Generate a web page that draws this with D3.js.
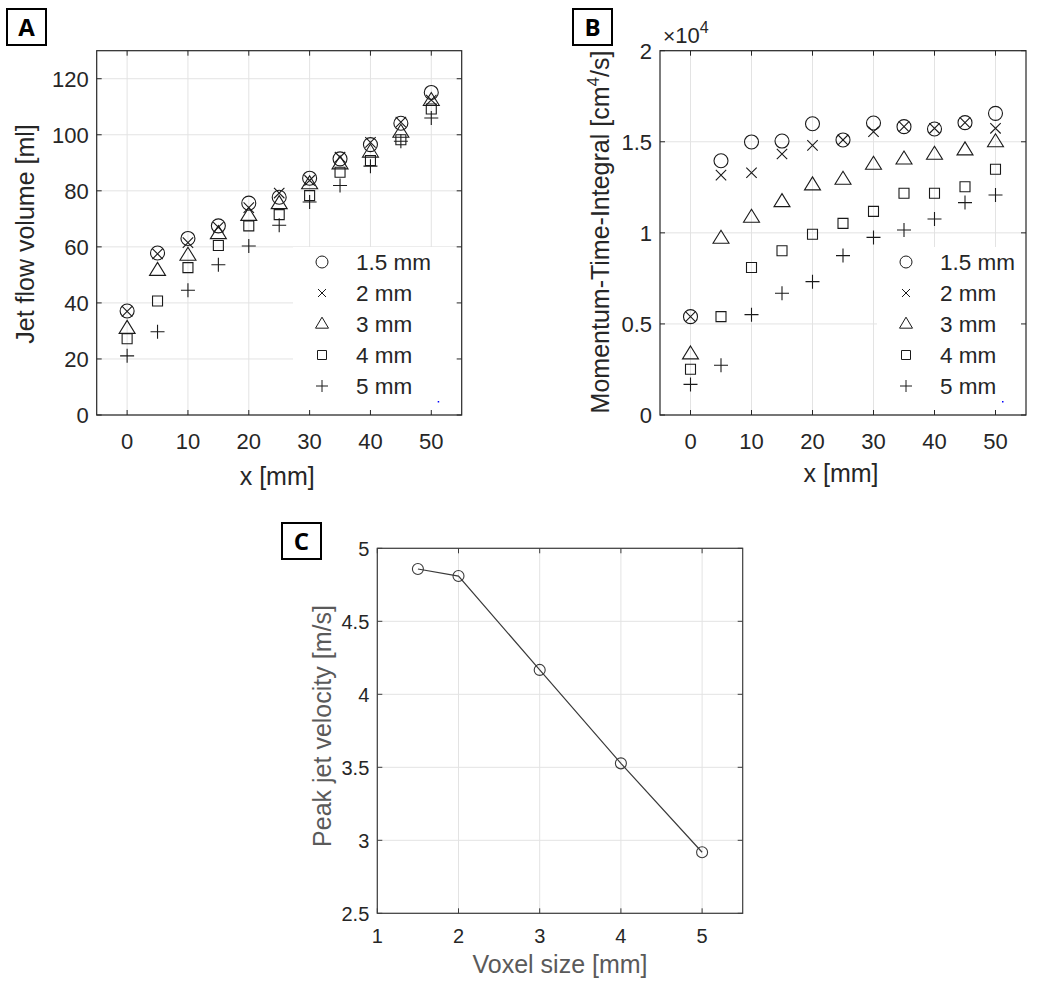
<!DOCTYPE html>
<html>
<head>
<meta charset="utf-8">
<script src="https://cdn.jsdelivr.net/npm/d3@7/dist/d3.min.js"></script>
<style>
  body { margin: 0; background: #fff; }
  text { font-family: "Liberation Sans", Arial, sans-serif; }
</style>
</head>
<body>
<svg id="fig" width="1041" height="994"></svg>
<script>
// ---- data ----
const xPos = [0, 5, 10, 15, 20, 25, 30, 35, 40, 45, 50]
const voxelLabels = ["1.5 mm", "2 mm", "3 mm", "4 mm", "5 mm"]

// panel A: jet flow volume [ml]
const volume15 = [37.1, 57.8, 63.0, 67.5, 75.6, 77.7, 84.5, 91.4, 96.5, 104.1, 115.1]
const volume2  = [37.0, 57.5, 61.5, 67.0, 74.0, 79.2, 83.7, 92.0, 97.3, 104.5, 112.4]
const volume3  = [30.9, 51.6, 57.0, 64.7, 71.2, 75.4, 82.5, 89.6, 93.8, 100.9, 112.2]
const volume4  = [27.2, 40.7, 52.6, 60.5, 67.5, 71.5, 78.3, 86.6, 90.8, 98.2, 109.2]
const volume5  = [21.1, 29.7, 44.5, 53.6, 60.3, 67.7, 76.0, 81.9, 88.8, 97.7, 106.0]

// panel B: momentum-time-integral [cm^4/s]
const mti15 = [5400, 13960, 14990, 15040, 15990, 15100, 16030, 15830, 15700, 16050, 16560]
const mti2  = [5400, 13170, 13300, 14330, 14800, 15100, 15550, 15830, 15740, 16050, 15740]
const mti3  = [3350, 9700, 10850, 11710, 12630, 12940, 13760, 14050, 14310, 14550, 15000]
const mti4  = [2510, 5400, 8100, 9020, 9920, 10520, 11180, 12170, 12170, 12530, 13490]
const mti5  = [1680, 2730, 5510, 6680, 7320, 8750, 9750, 10160, 10760, 11660, 12080]

// panel C: peak jet velocity [m/s]
const voxelSize = [1.5, 2, 3, 4, 5]
const peakVelocity = [4.858, 4.81, 4.167, 3.527, 2.918]

const xTicks = [0, 10, 20, 30, 40, 50]
const volumeTicks = [0, 20, 40, 60, 80, 100, 120]
const mtiTicks = [0, 5000, 10000, 15000, 20000]
const voxelTicks = [1, 2, 3, 4, 5]
const velocityTicks = [2.5, 3, 3.5, 4, 4.5, 5]

const svg = d3.select('#fig')
const ink = '#262626'
const gridColor = '#e3e3e3'

// ---- marker shapes ----
const shapes = {
  circle: s => { const r = s.r; return `M${r},0A${r},${r} 0 1,1 ${-r},0A${r},${r} 0 1,1 ${r},0Z` },
  x: s => { const h = s.x; return `M${-h},${-h}L${h},${h}M${-h},${h}L${h},${-h}` },
  triangle: s => { const w = s.tw / 2, h = s.th; return `M0,${-h * 0.62}L${w},${h * 0.38}L${-w},${h * 0.38}Z` },
  square: s => { const h = s.sq / 2; return `M${-h},${-h}H${h}V${h}H${-h}Z` },
  plus: s => { const h = s.p; return `M${-h},0H${h}M0,${-h}V${h}` }
}
const shapeOrder = ['circle', 'x', 'triangle', 'square', 'plus']
const plotSize = {r: 7, x: 5.2, tw: 16, th: 13, sq: 10, p: 7}
const legendSize = {r: 6, x: 4, tw: 13, th: 11, sq: 9, p: 6}

function panelLabel(x, y, label) {
  svg.append('rect').attr('x', x).attr('y', y).attr('width', 39).attr('height', 36)
    .attr('fill', '#fff').attr('stroke', '#000').attr('stroke-width', 2)
  svg.append('text').attr('x', x + 19.5).attr('y', y + 27)
    .attr('text-anchor', 'middle')
    .style('font-family', '"Open Sans", sans-serif')
    .style('font-weight', 'bold').style('font-size', '24px')
    .text(label)
}

function grid(g, x, y, xt, yt) {
  const [x0, x1] = x.range(), [y0, y1] = y.range()
  g.append('g').selectAll('line').data(xt).join('line')
    .attr('x1', d => x(d)).attr('x2', d => x(d)).attr('y1', y0).attr('y2', y1)
    .attr('stroke', gridColor)
  g.append('g').selectAll('line').data(yt).join('line')
    .attr('x1', x0).attr('x2', x1).attr('y1', d => y(d)).attr('y2', d => y(d))
    .attr('stroke', gridColor)
}

function axesBox(g, x, y, xt, yt, boxColor, fontSize, xGap, yFormat) {
  const [x0, x1] = x.range(), [y0, y1] = y.range()
  const tl = 5
  const ticks = g.append('g').attr('stroke', boxColor).attr('stroke-width', 1)
  xt.forEach(d => {
    ticks.append('line').attr('x1', x(d)).attr('x2', x(d)).attr('y1', y0).attr('y2', y0 - tl)
    ticks.append('line').attr('x1', x(d)).attr('x2', x(d)).attr('y1', y1).attr('y2', y1 + tl)
  })
  yt.forEach(d => {
    ticks.append('line').attr('x1', x0).attr('x2', x0 + tl).attr('y1', y(d)).attr('y2', y(d))
    ticks.append('line').attr('x1', x1).attr('x2', x1 - tl).attr('y1', y(d)).attr('y2', y(d))
  })
  g.append('rect').attr('x', x0).attr('y', y1).attr('width', x1 - x0).attr('height', y0 - y1)
    .attr('fill', 'none').attr('stroke', boxColor).attr('stroke-width', 1.2)
  g.append('g').selectAll('text').data(xt).join('text')
    .attr('x', d => x(d)).attr('y', y0 + xGap)
    .attr('text-anchor', 'middle').attr('fill', ink)
    .style('font-size', fontSize + 'px').text(d => d)
  g.append('g').selectAll('text').data(yt).join('text')
    .attr('x', x0 - 8).attr('y', d => y(d) + fontSize * 0.36)
    .attr('text-anchor', 'end').attr('fill', ink)
    .style('font-size', fontSize + 'px').text(yFormat || (d => d))
}

function scatterPanel(opt) {
  const g = svg.append('g')
  const x = d3.scaleLinear().domain([-5, 55]).range([opt.left, opt.right])
  const y = d3.scaleLinear().domain(opt.yDomain).range([opt.bottom, opt.top])
  grid(g, x, y, xTicks, opt.yTicks)

  // legend background hides grid
  g.append('rect').attr('x', opt.legendX).attr('y', 247)
    .attr('width', opt.right - opt.legendX - 1).attr('height', opt.bottom - 249)
    .attr('fill', '#fff')

  opt.series.forEach((vals, i) => {
    g.append('g').selectAll('path').data(vals).join('path')
      .attr('transform', (d, j) => `translate(${x(xPos[j])},${y(d)})`)
      .attr('d', shapes[shapeOrder[i]](plotSize))
      .attr('fill', 'none').attr('stroke', '#1a1a1a').attr('stroke-width', 1.1)
  })

  axesBox(g, x, y, xTicks, opt.yTicks, ink, 22, 34, opt.yFormat)

  // legend
  const rows = [262, 293, 324, 355, 386]
  voxelLabels.forEach((lab, i) => {
    g.append('path').attr('transform', `translate(${opt.legendX + 29},${rows[i]})`)
      .attr('d', shapes[shapeOrder[i]](legendSize))
      .attr('fill', 'none').attr('stroke', '#1a1a1a').attr('stroke-width', 1)
    g.append('text').attr('x', opt.legendX + 63).attr('y', rows[i] + 8)
      .attr('fill', ink).style('font-size', '22.5px').text(lab)
  })
  // stray blue pixel at the legend corner
  g.append('rect').attr('x', opt.right - 24).attr('y', 401).attr('width', 1.5).attr('height', 1.5)
    .attr('fill', '#0000ff')

  g.append('text').attr('x', (opt.left + opt.right) / 2 - 2).attr('y', opt.xLabelY)
    .attr('text-anchor', 'middle').attr('fill', ink).style('font-size', '25px').text('x [mm]')
  return {g, x, y}
}

// ---- panel A ----
const A = scatterPanel({
  left: 96.7, right: 461.7, top: 50.7, bottom: 415,
  yDomain: [0, 130], yTicks: volumeTicks, legendX: 293, xLabelY: 485,
  series: [volume15, volume2, volume3, volume4, volume5]
})
A.g.append('text')
  .attr('transform', 'translate(34,234) rotate(-90)')
  .attr('text-anchor', 'middle').attr('fill', ink).style('font-size', '25px')
  .text('Jet flow volume [ml]')
panelLabel(7, 9, 'A')

// ---- panel B ----
const B = scatterPanel({
  left: 660, right: 1026, top: 50.7, bottom: 415,
  yDomain: [0, 20000], yTicks: mtiTicks, legendX: 877, xLabelY: 482,
  yFormat: d => d / 10000,
  series: [mti15, mti2, mti3, mti4, mti5]
})
const bLab = B.g.append('text')
  .attr('transform', 'translate(609,232) rotate(-90)')
  .attr('text-anchor', 'middle').attr('fill', ink).style('font-size', '25px')
bLab.append('tspan').text('Momentum-Time-Integral [cm')
bLab.append('tspan').attr('dy', -10).style('font-size', '17px').text('4')
bLab.append('tspan').attr('dy', 10).text('/s]')
const exp = B.g.append('text').attr('x', 663).attr('y', 43).attr('fill', ink).style('font-size', '22px')
exp.append('tspan').style('font-size', '21px').text('\u00d7')
exp.append('tspan').text('10')
exp.append('tspan').attr('dy', -10).style('font-size', '16px').text('4')
panelLabel(573, 9, 'B')

// ---- panel C ----
const gC = svg.append('g')
const xC = d3.scaleLinear().domain([1, 5.5]).range([377.3, 742.7])
const yC = d3.scaleLinear().domain([2.5, 5]).range([913.3, 548.3])
grid(gC, xC, yC, voxelTicks, velocityTicks)
gC.append('path').datum(voxelSize.map((v, i) => [v, peakVelocity[i]]))
  .attr('d', d3.line().x(d => xC(d[0])).y(d => yC(d[1])))
  .attr('fill', 'none').attr('stroke', '#3a3a3a').attr('stroke-width', 1.2)
gC.append('g').selectAll('circle').data(peakVelocity).join('circle')
  .attr('cx', (d, i) => xC(voxelSize[i])).attr('cy', d => yC(d)).attr('r', 5.5)
  .attr('fill', 'none').attr('stroke', '#3a3a3a').attr('stroke-width', 1.1)
axesBox(gC, xC, yC, voxelTicks, velocityTicks, '#3c3c3c', 20, 30)
gC.append('text').attr('x', 560).attr('y', 973)
  .attr('text-anchor', 'middle').attr('fill', '#5a5a5a').style('font-size', '25px')
  .text('Voxel size [mm]')
gC.append('text').attr('transform', 'translate(331,726) rotate(-90)')
  .attr('text-anchor', 'middle').attr('fill', '#5a5a5a').style('font-size', '25px')
  .text('Peak jet velocity [m/s]')
panelLabel(282, 523, 'C')
</script>
</body>
</html>
